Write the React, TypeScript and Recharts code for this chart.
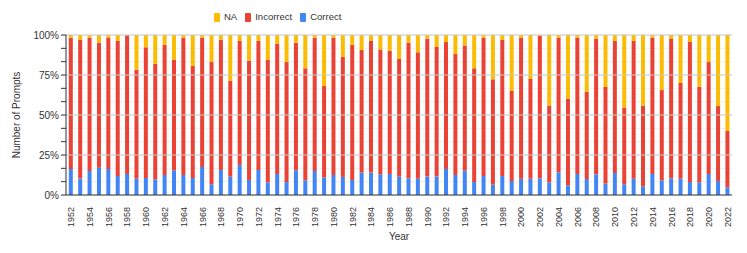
import { BarChart, Bar, XAxis, YAxis, CartesianGrid, ReferenceLine } from 'recharts';

const years = [
  '1952', '1953', '1954', '1955', '1956', '1957', '1958', '1959', '1960', '1961',
  '1962', '1963', '1964', '1965', '1966', '1967', '1968', '1969', '1970', '1971',
  '1972', '1973', '1974', '1975', '1976', '1977', '1978', '1979', '1980', '1981',
  '1982', '1983', '1984', '1985', '1986', '1987', '1988', '1989', '1990', '1991',
  '1992', '1993', '1994', '1995', '1996', '1997', '1998', '1999', '2000', '2001',
  '2002', '2003', '2004', '2005', '2006', '2007', '2008', '2009', '2010', '2011',
  '2012', '2013', '2014', '2015', '2016', '2017', '2018', '2019', '2020', '2021', '2022',
];

const correct = [
  16.3, 10.4, 15.0, 17.0, 16.3, 11.9, 13.1, 10.2, 10.6, 9.8,
  12.5, 15.4, 12.5, 10.6, 17.5, 6.7, 15.6, 11.5, 18.8, 9.4,
  15.6, 7.9, 13.1, 8.1, 15.4, 9.2, 15.0, 11.0, 12.5, 11.3,
  9.4, 14.0, 14.0, 12.9, 13.1, 11.5, 10.4, 10.2, 11.5, 11.5,
  16.3, 12.5, 15.2, 8.1, 11.9, 6.5, 11.9, 8.8, 10.2, 10.2,
  10.4, 7.9, 14.2, 6.0, 13.1, 10.0, 12.9, 7.1, 13.8, 6.7,
  10.2, 5.4, 13.1, 9.2, 10.4, 10.2, 8.1, 7.9, 13.1, 8.8, 4.8,
];

const incorrect = [
  82.0, 86.5, 83.3, 78.2, 82.0, 84.4, 86.7, 68.1, 81.7, 72.1,
  81.3, 69.2, 85.8, 70.0, 80.8, 76.4, 81.5, 59.8, 77.5, 74.6,
  80.7, 76.5, 81.3, 75.0, 79.8, 70.0, 83.3, 57.1, 85.8, 75.0,
  84.4, 76.6, 82.5, 78.1, 77.1, 73.5, 84.8, 79.0, 86.2, 81.0,
  79.3, 75.6, 78.3, 71.1, 86.4, 65.8, 85.0, 56.2, 88.1, 62.3,
  89.0, 47.9, 84.1, 54.2, 85.2, 54.4, 84.8, 60.4, 82.5, 47.9,
  86.1, 50.4, 85.2, 56.4, 87.1, 59.8, 87.5, 59.8, 70.0, 46.8, 35.2,
];

const na = [
  1.7, 3.1, 1.7, 4.8, 1.7, 3.7, 0.2, 21.7, 7.7, 18.1,
  6.2, 15.4, 1.7, 19.4, 1.7, 16.9, 2.9, 28.7, 3.7, 16.0,
  3.7, 15.6, 5.6, 16.9, 4.8, 20.8, 1.7, 31.9, 1.7, 13.7,
  6.2, 9.4, 3.5, 9.0, 9.8, 15.0, 4.8, 10.8, 2.3, 7.5,
  4.4, 11.9, 6.5, 20.8, 1.7, 27.7, 3.1, 35.0, 1.7, 27.5,
  0.6, 44.2, 1.7, 39.8, 1.7, 35.6, 2.3, 32.5, 3.7, 45.4,
  3.7, 44.2, 1.7, 34.4, 2.5, 30.0, 4.4, 32.3, 16.9, 44.4, 60.0,
];

const yTicks = [0, 1 / 12, 2 / 12, 0.25, 4 / 12, 5 / 12, 0.5, 7 / 12, 8 / 12, 0.75, 10 / 12, 11 / 12, 1];
const majorTicks = [0.25, 0.5, 0.75, 1];
const majorLabels: Record<string, string> = { '0': '0%', '0.25': '25%', '0.5': '50%', '0.75': '75%', '1': '100%' };

const COLORS = { na: '#FBBC04', incorrect: '#EA4335', correct: '#4285F4' };
const FONT = '"Liberation Sans", Arial, sans-serif';

const data = years.map((year, i) => ({ year, correct: correct[i], incorrect: incorrect[i], na: na[i] }));

const legendItems = [
  { label: 'NA', color: COLORS.na },
  { label: 'Incorrect', color: COLORS.incorrect },
  { label: 'Correct', color: COLORS.correct },
];

function TopLegend() {
  return (
    <div style={{ position: 'absolute', left: 214, top: 11, display: 'flex', gap: 8, fontFamily: FONT, fontSize: 9.5, color: '#333', lineHeight: '12px' }}>
      {legendItems.map((it) => (
        <div key={it.label} style={{ display: 'flex', alignItems: 'center', gap: 4 }}>
          <span style={{ width: 6, height: 9, background: it.color, display: 'inline-block', borderRadius: 1 }} />
          <span>{it.label}</span>
        </div>
      ))}
    </div>
  );
}

function YearTick({ x, y, payload }: any) {
  return (
    <text x={x} y={y} transform={`rotate(-90 ${x} ${y + 4})`} textAnchor="end"
      fontSize={9} fill="#333" fontFamily={FONT}>
      <tspan x={x} y={y + 4 + 3.5}>{payload.value}</tspan>
    </text>
  );
}

export default function App() {
  return (
    <div style={{ position: 'absolute', left: 0, top: 0, width: 747, height: 253, background: '#fff' }}>
      <BarChart width={747} height={253} data={data} stackOffset="expand" barCategoryGap="30%"
        margin={{ top: 35, right: 15, bottom: 0, left: 0 }}>
        <CartesianGrid vertical={false} stroke="#eeeeee" />
        {majorTicks.map((t) => (
          <ReferenceLine key={t} y={t} stroke="#cccccc" />
        ))}
        <XAxis dataKey="year" interval={1} height={58} tick={<YearTick />} tickLine={false}
          axisLine={{ stroke: '#333' }}
          label={{ value: 'Year', position: 'insideBottom', offset: 13, fontSize: 10, fill: '#333', fontFamily: FONT }} />
        <YAxis width={66} domain={[0, 1]} ticks={yTicks} interval={0}
          tickFormatter={(v: number) => majorLabels[String(+v.toFixed(4))] ?? ''}
          tick={{ fontSize: 10, fill: '#333', fontFamily: FONT }} tickSize={5}
          tickLine={{ stroke: '#333' }} axisLine={{ stroke: '#333' }}
          label={{ value: 'Number of Prompts', angle: -90, position: 'insideLeft', offset: 16, fontSize: 10, fill: '#333', fontFamily: FONT, style: { textAnchor: 'middle' } }} />
        <Bar dataKey="correct" stackId="a" fill={COLORS.correct} isAnimationActive={false} />
        <Bar dataKey="incorrect" stackId="a" fill={COLORS.incorrect} isAnimationActive={false} />
        <Bar dataKey="na" stackId="a" fill={COLORS.na} isAnimationActive={false} />
      </BarChart>
      <TopLegend />
    </div>
  );
}
